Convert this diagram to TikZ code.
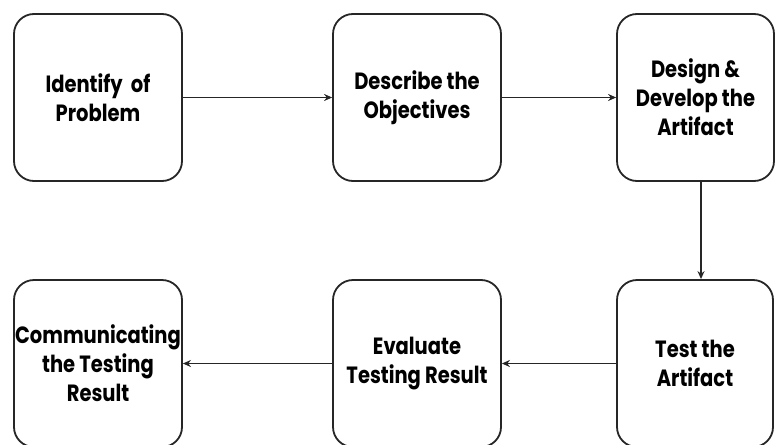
\documentclass[tikz,border=0pt]{standalone}
\usepackage{fontspec}
\setmainfont{Poppins}[FakeStretch=0.83]
\usetikzlibrary{arrows.meta}
\tikzset{
  box/.style={draw=black!85, line width=1.8pt, rounded corners=20pt, fill=white,
    align=center, inner sep=0pt, font=\bfseries\fontsize{23.5}{29}\selectfont, text=black},
  conn/.style={draw=black!85, line width=1.7pt, -{Stealth[length=8pt,width=7pt]}}
}
\begin{document}
\begin{tikzpicture}[x=1pt,y=-1pt]
\useasboundingbox (0,0) rectangle (775,444);
\clip (0,0) rectangle (775,444);
\node[box, minimum width=168pt, minimum height=167pt] (b1) at (98,97.5) {Identify\ \ of\\Problem};
\node[box, minimum width=168pt, minimum height=167pt] (b2) at (417,97.5) {Describe the\\Objectives};
\node[box, minimum width=157pt, minimum height=167pt] (b3) at (695.5,97.5) {Design \&\\Develop the\\Artifact};
\node[box, minimum width=156pt, minimum height=167pt] (b6) at (695,363.5) {Test the\\Artifact};
\node[box, minimum width=168pt, minimum height=167pt] (b5) at (417,363.5) {Evaluate\\Testing Result};
\node[box, minimum width=168pt, minimum height=167pt] (b4) at (98,363.5) {Communicating\\the Testing\\Result};
\draw[conn] (b1) -- (b2);
\draw[conn] (b2) -- (b3);
\draw[conn] ([xshift=5.5pt]b3.south) -- ([xshift=5.5pt]b3.south |- b6.north);
\draw[conn] (b6) -- (b5);
\draw[conn] (b5) -- (b4);
\end{tikzpicture}
\end{document}
